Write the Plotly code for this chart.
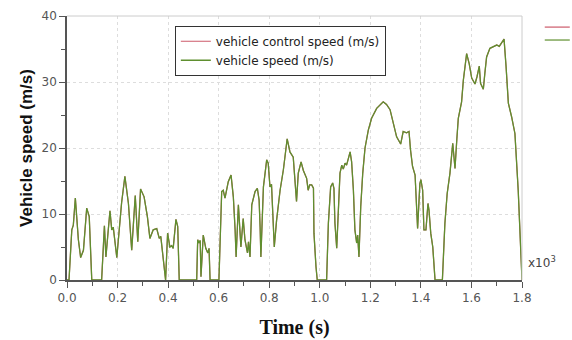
import plotly.graph_objects as go

# time in seconds, speed in m/s
time_s = [0, 8, 19, 25, 33, 45, 54, 65, 78, 88, 98, 137, 148, 154, 161, 170, 177, 183, 197, 216, 229,
          243, 256, 270, 280, 291, 305, 318, 328, 341, 355, 365, 371, 381, 390, 398, 407, 414, 420,
          431, 438, 444, 513, 517, 522, 527, 530, 539, 549, 557, 562, 566, 601, 612, 618, 625, 638,
          649, 658, 665, 669, 678, 684, 688, 697, 704, 710, 714, 718, 724, 731, 744, 753, 760, 764,
          767, 777, 790, 796, 803, 809, 814, 820, 829, 843, 856, 871, 882, 895, 908, 915, 926, 935,
          948, 954, 960, 968, 975, 977, 985, 990, 1027, 1034, 1043, 1051, 1056, 1060, 1067, 1073,
          1080, 1087, 1093, 1100, 1106, 1113, 1120, 1126, 1133, 1139, 1146, 1150, 1155, 1162, 1170,
          1179, 1192, 1205, 1225, 1251, 1264, 1278, 1291, 1304, 1320, 1330, 1343, 1353, 1359, 1367,
          1377, 1383, 1387, 1396, 1400, 1407, 1412, 1420, 1425, 1428, 1432, 1439, 1447, 1456, 1485,
          1495, 1504, 1515, 1526, 1535, 1542, 1548, 1561, 1568, 1581, 1591, 1601, 1614, 1622, 1631,
          1636, 1647, 1653, 1660, 1673, 1686, 1700, 1710, 1720, 1729, 1737, 1746, 1759, 1772, 1785,
          1800]
speed = [0, 0, 7.6, 8.3, 12.4, 6.1, 3.4, 4.5, 10.9, 9.6, 0, 0, 8.2, 3.5, 6.6, 10.5, 7.6, 8.0, 3.4,
         11.7, 15.7, 11.6, 4.5, 12.8, 5.8, 13.8, 12.6, 9.6, 6.3, 7.6, 7.8, 6.3, 6.6, 3.0, 0, 7.1,
         5.0, 5.2, 4.8, 9.2, 8.1, 0, 0, 6.1, 5.6, 6.0, 0.5, 6.8, 4.8, 4.1, 4.8, 0, 0, 13.4, 13.6,
         12.4, 14.9, 15.9, 12.6, 7.6, 3.5, 11.4, 7.6, 5.0, 9.3, 6.1, 4.9, 4.1, 5.8, 3.5, 11.4, 13.4,
         13.9, 12.1, 8.0, 3.5, 14.1, 18.2, 17.7, 14.1, 14.5, 11.1, 5.0, 9.0, 13.6, 16.7, 21.4, 19.4,
         18.6, 11.9, 16.2, 17.9, 16.6, 15.4, 13.6, 14.4, 14.4, 13.9, 7.1, 2.0, 0, 0, 8.6, 14.1, 14.7,
         13.9, 8.6, 4.8, 9.6, 16.2, 17.4, 16.8, 17.7, 17.4, 18.4, 19.4, 17.9, 13.6, 7.6, 5.6, 6.8,
         3.5, 11.1, 16.2, 20.0, 22.7, 24.5, 26.0, 27.0, 26.6, 25.8, 23.7, 21.7, 20.6, 22.5, 22.3,
         22.5, 19.7, 17.2, 15.9, 12.1, 7.8, 14.6, 15.2, 13.6, 7.6, 7.6, 11.1, 11.6, 10.6, 7.1, 5.0,
         0, 0, 8.6, 13.1, 16.2, 20.7, 16.9, 21.2, 24.5, 27.0, 30.3, 34.3, 32.8, 30.6, 29.7, 30.8,
         32.4, 29.8, 28.9, 31.3, 33.8, 35.1, 35.4, 35.6, 35.4, 35.9, 36.5, 32.3, 26.8, 24.7, 22.2,
         13.6, 0]

x_ticks = [0.0, 0.2, 0.4, 0.6, 0.8, 1.0, 1.2, 1.4, 1.6, 1.8]
y_ticks = [0, 10, 20, 30, 40]

t_k = [t / 1000 for t in time_s]

fig = go.Figure()
fig.add_trace(go.Scatter(x=t_k, y=speed, mode="lines", name="vehicle control speed (m/s)",
                         line=dict(color="#cc5a6a", width=1.2)))
fig.add_trace(go.Scatter(x=t_k, y=speed, mode="lines", name="vehicle speed (m/s)",
                         line=dict(color="#5f8f2f", width=1.3)))

tickfont = dict(family="DejaVu Sans", size=12, color="#555555")
fig.update_xaxes(range=[0, 1.8], tickvals=x_ticks, ticktext=[f"{v:.1f}" for v in x_ticks],
                 tickfont=tickfont, showline=True, linecolor="#555555", linewidth=1.5,
                 ticks="outside", ticklen=6, tickcolor="#555555", automargin=False,
                 minor=dict(tickvals=[0.1, 0.3, 0.5, 0.7, 0.9, 1.1, 1.3, 1.5, 1.7],
                            ticks="outside", ticklen=4, tickcolor="#555555"),
                 showgrid=True, gridcolor="#dddddd", griddash="dot", gridwidth=1,
                 zeroline=False,
                 title=dict(text="<b>Time (s)</b>", font=dict(family="Liberation Serif", size=20,
                                                                 color="#111111"), standoff=16))
fig.update_yaxes(range=[0, 40], tickvals=y_ticks, tickfont=tickfont, showline=True,
                 linecolor="#555555", linewidth=1.5, ticks="outside", ticklen=6, tickcolor="#555555",
                 automargin=False,
                 minor=dict(tickvals=[5, 15, 25, 35], ticks="outside", ticklen=4, tickcolor="#555555"),
                 showgrid=True, gridcolor="#dddddd", griddash="dot", gridwidth=1, zeroline=False,
                 title=dict(text="<b>Vehicle speed (m/s)</b>",
                            font=dict(family="Liberation Sans", size=17, color="#111111"), standoff=5))

# light frame on top/right
fig.add_shape(type="line", xref="paper", yref="paper", x0=0, x1=1, y0=1, y1=1,
              line=dict(color="#cccccc", width=1))
fig.add_shape(type="line", xref="paper", yref="paper", x0=1, x1=1, y0=0, y1=1,
              line=dict(color="#cccccc", width=1))
# cut-off second legend at right
fig.add_shape(type="line", xref="paper", yref="paper", x0=1.05, x1=1.105, y0=0.958, y1=0.958,
              line=dict(color="#cc5a6a", width=1.2))
fig.add_shape(type="line", xref="paper", yref="paper", x0=1.05, x1=1.105, y0=0.909, y1=0.909,
              line=dict(color="#5f8f2f", width=1.2))

fig.add_annotation(text="x10<sup>3</sup>", xref="paper", yref="paper", x=1.008, y=0.03,
                   xanchor="left", yanchor="bottom", showarrow=False,
                   font=dict(family="DejaVu Sans", size=12, color="#444444"))

fig.update_layout(
    width=572, height=340,
    margin=dict(l=67, r=50, t=16, b=60),
    plot_bgcolor="white", paper_bgcolor="white",
    legend=dict(x=0.237, y=0.963, xanchor="left", yanchor="top",
                bordercolor="#333333", borderwidth=1, bgcolor="white",
                font=dict(family="DejaVu Sans", size=12, color="#222222"),
                itemwidth=30, tracegroupgap=0),
    showlegend=True,
)

fig.write_html("out.html")
